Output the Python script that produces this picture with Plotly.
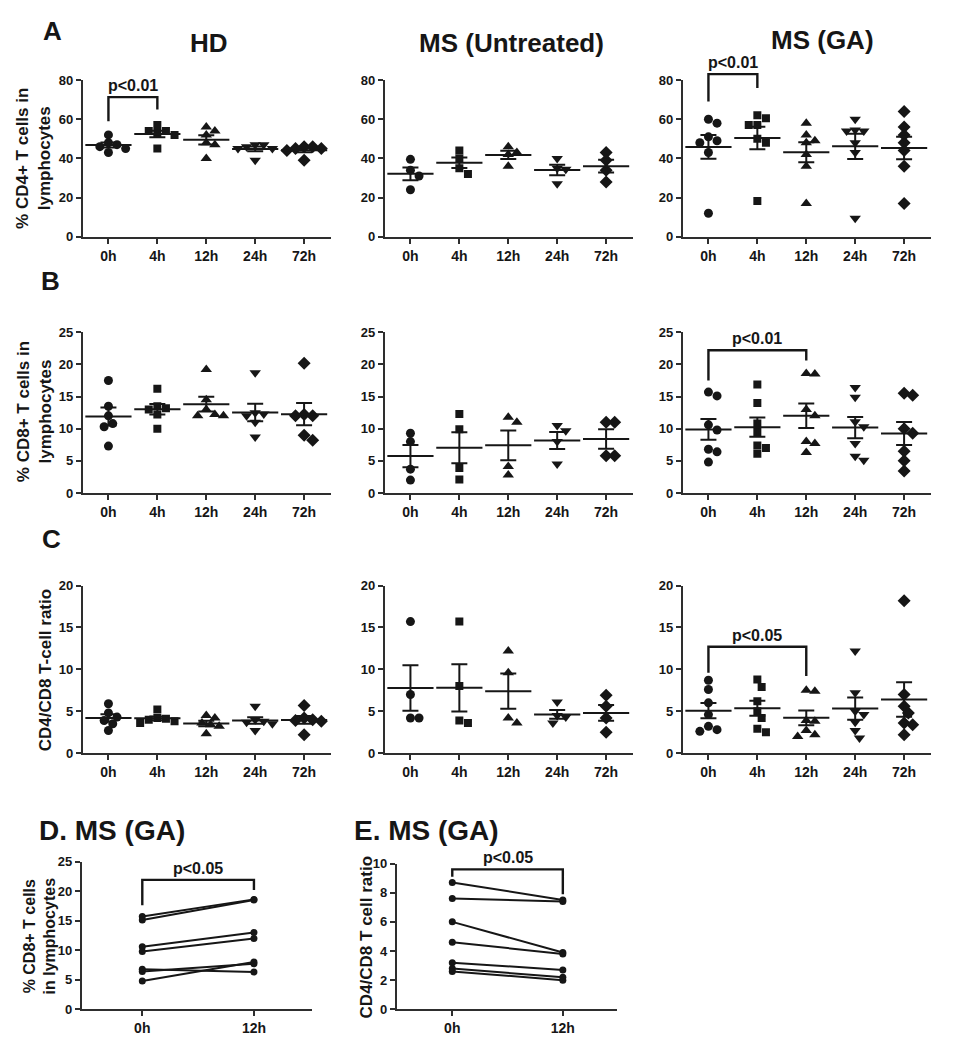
import numpy as np
import plotly.graph_objects as go

# page has an 8px body margin, so the figure is sized to fit the window and
# positions below are given in window pixels, converted by px()/py().
WIN_W, WIN_H, BODY = 964, 1050, 8
W, H = WIN_W - 2 * BODY, WIN_H - 2 * BODY

# ---------------- data ----------------
times = ["0h", "4h", "12h", "24h", "72h"]
pair_times = ["0h", "12h"]
groups = ["HD", "MS (Untreated)", "MS (GA)"]

# A: % CD4+ T cells in lymphocytes
cd4_hd = [[52, 48, 47, 46, 45, 43], [57, 54, 54, 53, 52, 45], [56, 54, 52, 48, 47, 40],
          [47, 47, 46, 45, 45, 39], [46, 46, 45, 45, 44, 39]]
cd4_ms = [[39.5, 34, 31, 24], [44, 40, 35, 32], [46, 43, 42, 36], [40, 35, 34.5, 27], [43, 39, 34, 28]]
cd4_ga = [[60, 58, 51, 49, 48, 43, 12], [62, 60.5, 57, 57, 50, 48, 18.3], [58, 52, 49, 48, 42, 36, 17],
          [60, 54.5, 54, 54, 48, 43, 9.5], [64, 56, 52, 48, 44, 36, 17]]

# D / B (GA, paired 0h-12h): % CD8+ T cells
cd8_ga_0h = [15.7, 15.1, 10.6, 9.8, 6.8, 6.4, 4.8]
cd8_ga_12h = [18.6, 18.5, 13.0, 12.0, 6.3, 7.7, 8.0]

# B: % CD8+ T cells in lymphocytes
cd8_hd = [[17.5, 13.5, 12, 10.8, 10.3, 7.3], [16.2, 13.5, 13.2, 13, 12.2, 10], [19.2, 14.5, 13, 12.2, 12, 12],
          [18.7, 12.5, 12.3, 12, 11, 8.7], [20.2, 12.2, 12, 12, 9, 8.2]]
cd8_ms = [[9.3, 8, 3.7, 2], [12.3, 9.9, 3.9, 2.1], [11.8, 11, 4.1, 2.8], [10.5, 9.7, 8, 4.5], [11, 11, 5.8, 5.8]]
cd8_ga = [cd8_ga_0h, [16.9, 14, 10.8, 9.5, 7.4, 7, 6.1], cd8_ga_12h,
          [16.4, 14.9, 11.1, 10.3, 7.7, 5.7, 5.1], [15.5, 15.2, 10, 9.3, 6.5, 5, 3.4]]

# E / C (GA, paired 0h-12h): CD4/CD8 ratio
ratio_ga_0h = [8.7, 7.6, 6.0, 4.6, 3.2, 2.8, 2.6]
ratio_ga_12h = [7.5, 7.4, 3.9, 3.8, 2.7, 2.2, 2.0]

# C: CD4/CD8 T-cell ratio
ratio_hd = [[5.9, 4.8, 4.3, 3.9, 3.5, 2.7], [5.2, 4.2, 4.1, 4.0, 3.8, 3.6], [4.5, 4.2, 3.6, 3.4, 3.2, 2.3],
            [5.6, 4.0, 3.8, 3.7, 3.5, 2.7], [5.7, 4.2, 4.0, 3.9, 3.8, 2.2]]
ratio_ms = [[15.7, 7.0, 4.2, 4.2], [15.7, 8.0, 3.9, 3.6], [12.2, 9.6, 4.2, 3.6], [6.1, 4.5, 4.3, 3.6],
            [6.9, 5.6, 4.2, 2.5]]
ratio_ga = [ratio_ga_0h, [8.8, 7.9, 6.2, 5.0, 4.2, 2.9, 2.5], ratio_ga_12h,
            [12.2, 7.2, 5.0, 4.6, 3.7, 2.7, 1.8], [18.2, 7.0, 5.6, 4.8, 3.6, 3.4, 2.2]]

# significance brackets: panel, from-index, to-index, top, left leg end, right leg end, label
sig_panel = ["A1", "A3", "B3", "C3", "D", "E"]
sig_from = [0, 0, 0, 0, 0, 0]
sig_to = [1, 1, 2, 2, 1, 1]
sig_top = [71.3, 83, 22.2, 12.7, 21.9, 9.6]
sig_left = [59, 69, 17.5, 9.6, 17.6, 9.1]
sig_right = [65, 76, 20.6, 9.2, 20.2, 7.9]
sig_text = ["p<0.01", "p<0.01", "p<0.01", "p<0.05", "p<0.05", "p<0.05"]

# ---------------- style / layout ----------------
FONT = "Liberation Sans, Arial, sans-serif"
INK = "#161616"
AXC = "#2e2e2e"
SYMBOLS = ["circle", "square", "triangle-up", "triangle-down", "diamond"]
MSIZE = {"circle": 9, "square": 8, "triangle-up": 10, "triangle-down": 10, "diamond": 10}


def px(x):
    return (x - BODY) / W


def py(y):
    return 1 - (y - BODY) / H


cols_px = [(83, 331), (385, 633), (683, 931)]
rows_py = {"A": (74, 233), "B": (330, 493), "C": (587, 757)}
row_ymax = {"A": 80, "B": 25, "C": 20}
row_dtick = {"A": 20, "B": 5, "C": 5}
row_data = {"A": [cd4_hd, cd4_ms, cd4_ga], "B": [cd8_hd, cd8_ms, cd8_ga], "C": [ratio_hd, ratio_ms, ratio_ga]}

panels = {}
for r in ["A", "B", "C"]:
    for c in range(3):
        panels[f"{r}{c+1}"] = dict(px=cols_px[c], py=rows_py[r], xr=(-0.52, 4.55), ymax=row_ymax[r],
                                   dtick=row_dtick[r], cats=times, data=row_data[r][c])
panels["D"] = dict(px=(82, 312), py=(867, 1017), xr=(-0.54, 1.52), ymax=25, dtick=5, cats=pair_times,
                   pairs=(cd8_ga_0h, cd8_ga_12h))
panels["E"] = dict(px=(397, 617), py=(869, 1017), xr=(-0.5, 1.49), ymax=10, dtick=2, cats=pair_times,
                   pairs=(ratio_ga_0h, ratio_ga_12h))

for p in panels.values():
    p["xdom"] = [px(p["px"][0]), px(p["px"][1])]
    p["ydom"] = [py(p["py"][1]), py(p["py"][0])]


def to_paper(p, x, y):
    xd, yd = p["xdom"], p["ydom"]
    xp = xd[0] + (x - p["xr"][0]) / (p["xr"][1] - p["xr"][0]) * (xd[1] - xd[0])
    yp = yd[0] + y / p["ymax"] * (yd[1] - yd[0])
    return xp, yp


def swarm(vals, ppx, ppy, d=8.6):
    vals = np.asarray(vals, float)
    order = np.argsort(-vals)
    placed = []
    offs = np.zeros(len(vals))
    for i in order:
        yv = vals[i] * ppy
        cand = 0.0
        for k in range(60):
            cand = 0.0 if k == 0 else ((k + 1) // 2) * (d / 2) * (1 if k % 2 else -1)
            if all((cand - a) ** 2 + (yv - b) ** 2 >= 0.85 * d * d for a, b in placed):
                break
        placed.append((cand, yv))
        offs[i] = cand / ppx
    return offs


fig = go.Figure()
layout_axes = {}
for n, (key, p) in enumerate(panels.items(), start=1):
    xa = "x" if n == 1 else f"x{n}"
    ya = "y" if n == 1 else f"y{n}"
    ppx = (p["px"][1] - p["px"][0]) / (p["xr"][1] - p["xr"][0])
    ppy = (p["py"][1] - p["py"][0]) / p["ymax"]
    if "data" in p:
        means, sems = [], []
        for i, vals in enumerate(p["data"]):
            offs = swarm(vals, ppx, ppy)
            sym = SYMBOLS[i]
            fig.add_trace(go.Scatter(x=i + offs, y=vals, mode="markers", xaxis=xa, yaxis=ya,
                                     marker=dict(symbol=sym, size=MSIZE[sym], color=INK, line=dict(width=0)),
                                     showlegend=False, hoverinfo="y"))
            arr = np.asarray(vals, float)
            means.append(arr.mean())
            sems.append(arr.std(ddof=1) / np.sqrt(len(arr)))
        fig.add_trace(go.Scatter(x=list(range(len(p["cats"]))), y=means, mode="markers", xaxis=xa, yaxis=ya,
                                 marker=dict(symbol="line-ew", size=33, color=INK, line=dict(width=2, color=INK)),
                                 error_y=dict(type="data", array=sems, visible=True, color=INK, thickness=2, width=8),
                                 showlegend=False, hoverinfo="y"))
    else:
        a, b = p["pairs"]
        for v0, v1 in zip(a, b):
            fig.add_trace(go.Scatter(x=[0, 1], y=[v0, v1], mode="lines+markers", xaxis=xa, yaxis=ya,
                                     line=dict(color=INK, width=2),
                                     marker=dict(symbol="circle", size=7, color=INK),
                                     showlegend=False, hoverinfo="y"))
    axis_common = dict(showline=True, linecolor=AXC, linewidth=2.2, ticks="outside", tickwidth=2,
                       tickcolor=AXC, ticklen=5, showgrid=False, zeroline=False, fixedrange=True)
    layout_axes["xaxis" if n == 1 else f"xaxis{n}"] = dict(
        axis_common, domain=p["xdom"], range=list(p["xr"]), anchor=ya,
        tickvals=list(range(len(p["cats"]))), ticktext=p["cats"],
        tickfont=dict(family=FONT, size=14, color=INK, weight="bold"))
    layout_axes["yaxis" if n == 1 else f"yaxis{n}"] = dict(
        axis_common, domain=p["ydom"], range=[0, p["ymax"]], anchor=xa,
        tickmode="linear", tick0=0, dtick=p["dtick"],
        tickfont=dict(family=FONT, size=13, color=INK, weight="bold"))

shapes = []
annotations = []
for pk, i0, i1, top, yl, yr, txt in zip(sig_panel, sig_from, sig_to, sig_top, sig_left, sig_right, sig_text):
    p = panels[pk]
    x0, y0 = to_paper(p, i0, yl)
    _, yt = to_paper(p, i0, top)
    x1, y1 = to_paper(p, i1, yr)
    shapes.append(dict(type="path", xref="paper", yref="paper",
                       path=f"M {x0},{y0} L {x0},{yt} L {x1},{yt} L {x1},{y1}",
                       line=dict(color=INK, width=2.4)))
    annotations.append(dict(x=(x0 + x1) / 2, y=yt, xref="paper", yref="paper", text=txt, showarrow=False,
                            xanchor="center", yanchor="bottom", yshift=1,
                            font=dict(family=FONT, size=16, color=INK, weight="bold")))


def text_at(x, y, txt, size, angle=0, xanchor="center"):
    annotations.append(dict(x=px(x), y=py(y), xref="paper", yref="paper", text=txt, showarrow=False,
                            xanchor=xanchor, yanchor="middle", textangle=angle,
                            font=dict(family=FONT, size=size, color=INK, weight="bold")))


text_at(52, 24, "A", 26)
text_at(50, 278, "B", 26)
text_at(51, 540, "C", 26)
text_at(209, 36, groups[0], 26)
text_at(511, 36, groups[1], 26)
text_at(822, 33, groups[2], 26)
text_at(37, 835, "D. MS (GA)", 28, xanchor="left")
text_at(352, 835, "E. MS (GA)", 28, xanchor="left")

text_at(34, 154, "% CD4+ T cells in<br>lymphocytes", 17, angle=-90)
text_at(34, 411, "% CD8+ T cells in<br>lymphocytes", 17, angle=-90)
text_at(45, 673, "CD4/CD8 T-cell ratio", 17, angle=-90)
text_at(40, 942, "% CD8+ T cells<br>in lymphocytes", 16, angle=-90)
text_at(366, 944, "CD4/CD8 T cell ratio", 17, angle=-90)

fig.update_layout(width=W, height=H, autosize=False, margin=dict(l=0, r=0, t=0, b=0),
                  paper_bgcolor="white", plot_bgcolor="white", showlegend=False,
                  shapes=shapes, annotations=annotations, **layout_axes)

fig.write_html("out.html")
